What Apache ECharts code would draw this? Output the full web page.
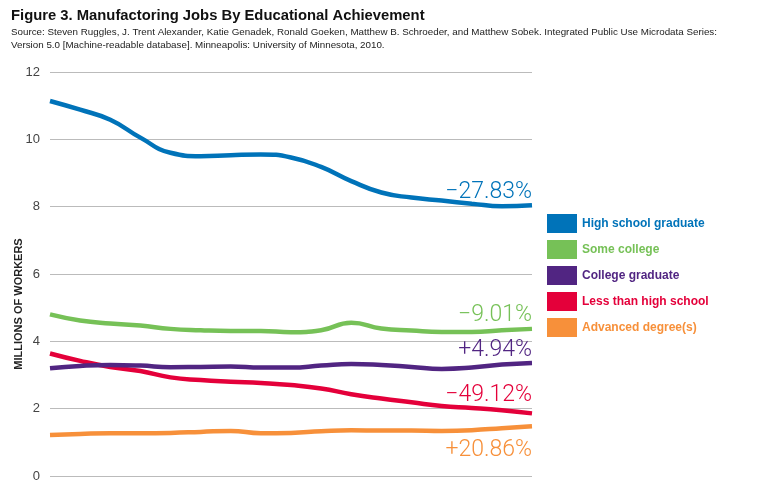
<!DOCTYPE html>
<html>
<head>
<meta charset="utf-8">
<script src="https://cdn.jsdelivr.net/npm/echarts@6/dist/echarts.min.js"></script>
<style>
html, body { margin: 0; padding: 0; background: #fff; }
#chart { width: 766px; height: 501px; }
</style>
</head>
<body>
<div id="chart"></div>
<script>
// 制造业就业 按学历
var periods = ['1','2','3','4','5','6','7','8','9','10','11','12','13','14','15','16','17'];
var highSchool = [11.14, 10.88, 10.58, 10.05, 9.6, 9.5, 9.53, 9.55, 9.46, 9.18, 8.76, 8.42, 8.27, 8.18, 8.09, 8.01, 8.04];
var someCollege = [4.80, 4.62, 4.53, 4.47, 4.37, 4.33, 4.31, 4.31, 4.27, 4.33, 4.55, 4.38, 4.32, 4.28, 4.28, 4.33, 4.37];
var collegeGrad = [3.20, 3.27, 3.30, 3.28, 3.23, 3.24, 3.25, 3.22, 3.22, 3.28, 3.33, 3.30, 3.24, 3.18, 3.22, 3.31, 3.36];
var lessThanHS = [3.64, 3.42, 3.24, 3.12, 2.93, 2.85, 2.80, 2.76, 2.70, 2.60, 2.43, 2.30, 2.19, 2.08, 2.02, 1.95, 1.86];
var advanced = [1.22, 1.25, 1.27, 1.27, 1.28, 1.31, 1.34, 1.27, 1.28, 1.33, 1.36, 1.35, 1.35, 1.34, 1.36, 1.42, 1.48];
var changes = ['−27.83%', '−9.01%', '+4.94%', '−49.12%', '+20.86%'];
var names = ['High school graduate', 'Some college', 'College graduate', 'Less than high school', 'Advanced degree(s)'];
var colors = ['#0073b9', '#76c157', '#512582', '#e4003a', '#f7903a'];

var chart = echarts.init(document.getElementById('chart'));

function makeSeries(idx, data, pos, dist) {
    var d = data.slice(0, data.length - 1);
    d.push({
        value: data[data.length - 1],
        label: {
            show: true,
            position: pos,
            distance: dist,
            align: 'right',
            formatter: changes[idx],
            color: colors[idx],
            fontFamily: 'Roboto',
            fontWeight: 300,
            fontSize: 23
        }
    });
    return {
        name: names[idx],
        type: 'line',
        smooth: true,
        showSymbol: true,
        symbol: 'circle',
        symbolSize: 0,
        data: d,
        lineStyle: { width: 4.5, color: colors[idx] },
        itemStyle: { color: colors[idx] },
        z: 10 - idx
    };
}

var option = {
    animation: false,
    title: {
        text: 'Figure 3. Manufactoring Jobs By Educational Achievement',
        subtext: 'Source: Steven Ruggles, J. Trent Alexander, Katie Genadek, Ronald Goeken, Matthew B. Schroeder, and Matthew Sobek. Integrated Public Use Microdata Series:\nVersion 5.0 [Machine-readable database]. Minneapolis: University of Minnesota, 2010.',
        left: 6,
        top: 3,
        itemGap: 3,
        textStyle: { fontFamily: 'Liberation Sans', fontWeight: 'bold', fontSize: 14.8, color: '#111' },
        subtextStyle: { fontFamily: 'Liberation Sans', fontSize: 9.8, color: '#222', lineHeight: 13 }
    },
    legend: {
        orient: 'vertical',
        left: 547,
        top: 214,
        padding: 0,
        itemWidth: 30,
        itemHeight: 19,
        itemGap: 7,
        icon: 'rect',
        data: names,
        textStyle: { color: 'inherit', fontFamily: 'Liberation Sans', fontWeight: 'bold', fontSize: 12 }
    },
    grid: { left: 50, right: 234, top: 72, bottom: 25 },
    xAxis: {
        type: 'category',
        data: periods,
        boundaryGap: false,
        show: false
    },
    yAxis: {
        type: 'value',
        min: 0,
        max: 12,
        interval: 2,
        axisLine: { show: false },
        axisTick: { show: false },
        axisLabel: { color: '#444', fontFamily: 'Liberation Sans', fontSize: 13, margin: 10 },
        splitLine: { lineStyle: { color: '#bbb', width: 1 } }
    },
    graphic: [{
        type: 'text',
        x: 19,
        y: 304,
        rotation: Math.PI / 2,
        style: {
            text: 'MILLIONS OF WORKERS',
            fill: '#222',
            font: 'bold 11px "Liberation Sans"',
            textAlign: 'center',
            textVerticalAlign: 'middle'
        }
    }],
    series: [
        makeSeries(0, highSchool, 'top', 2),
        makeSeries(1, someCollege, 'top', 2),
        makeSeries(2, collegeGrad, 'top', 1),
        makeSeries(3, lessThanHS, 'top', 7),
        makeSeries(4, advanced, 'bottom', 13)
    ]
};
chart.setOption(option);
</script>
</body>
</html>
